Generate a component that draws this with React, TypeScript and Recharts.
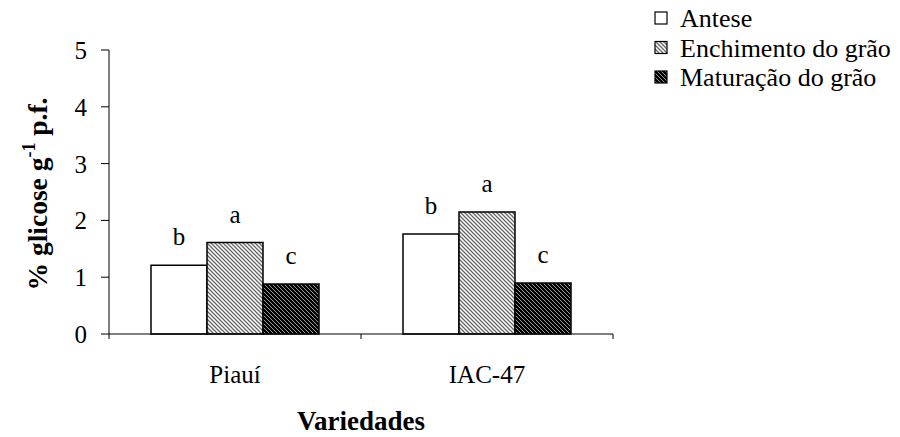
import React from 'react';
import { BarChart, Bar, XAxis, YAxis, LabelList, Legend } from 'recharts';

const categories = ['Piauí', 'IAC-47'];
const antese = [1.21, 1.76];
const enchimento = [1.61, 2.15];
const maturacao = [0.88, 0.9];
const letrasAntese = ['b', 'b'];
const letrasEnchimento = ['a', 'a'];
const letrasMaturacao = ['c', 'c'];
const yTicks = [0, 1, 2, 3, 4, 5];
const seriesNames = ['Antese', 'Enchimento do grão', 'Maturação do grão'];
const seriesFills = ['#ffffff', 'url(#hatchLight)', 'url(#hatchDark)'];

const data = categories.map((c, i) => ({
  name: c,
  antese: antese[i],
  enchimento: enchimento[i],
  maturacao: maturacao[i],
  la: letrasAntese[i],
  le: letrasEnchimento[i],
  lm: letrasMaturacao[i],
}));

const FONT = 'Liberation Serif';

const XTick = (props: any) => {
  const { x, y, payload, index } = props;
  const off = payload.offset || 0;
  const last = index === categories.length - 1;
  return (
    <g>
      <line x1={x - off} x2={x - off} y1={y} y2={y + 5} stroke="#000" strokeWidth={1} />
      {last && <line x1={x + off} x2={x + off} y1={y} y2={y + 5} stroke="#000" strokeWidth={1} />}
      <text
        x={x}
        y={y}
        dy={49}
        textAnchor="middle"
        fill="#000"
        fontFamily={FONT}
        fontSize={25}
        style={{ fontSize: 25, fontFamily: FONT, fontWeight: 'normal' }}
      >
        {payload.value}
      </text>
    </g>
  );
};

const YTick = (props: any) => {
  const { x, y, payload } = props;
  return (
    <text
      x={x}
      y={y}
      dy={9}
      textAnchor="end"
      fill="#000"
      fontFamily={FONT}
      fontSize={25}
      style={{ fontSize: 25, fontFamily: FONT, fontWeight: 'normal' }}
    >
      {payload.value}
    </text>
  );
};

const YLabel = (props: any) => {
  const vb = props.viewBox || { x: 0, y: 0, width: 0, height: 0 };
  const cx = vb.x + 47;
  const cy = vb.y + vb.height / 2 + 2;
  return (
    <text
      transform={`translate(${cx},${cy}) rotate(-90)`}
      textAnchor="middle"
      fill="#000"
      fontFamily={FONT}
      style={{ fontSize: 27.5, fontWeight: 'bold', fontFamily: FONT }}
    >
      % glicose g
      <tspan dy={-12} style={{ fontSize: 18 }}>-1</tspan>
      <tspan dy={12}> p.f.</tspan>
    </text>
  );
};

const LegendContent = () => (
  <svg width={250} height={100} style={{ overflow: 'visible', display: 'block' }}>
    {seriesNames.map((n, i) => {
      const base = 27 + i * 29.5;
      return (
        <g key={n}>
          <rect x={5} y={base - 15} width={12} height={12} fill={seriesFills[i]} stroke="#000" strokeWidth={1.2} />
          <text
            x={30}
            y={base}
            fill="#000"
            fontFamily={FONT}
            fontSize={26}
            style={{ fontSize: 26, fontFamily: FONT, fontWeight: 'normal' }}
          >
            {n}
          </text>
        </g>
      );
    })}
  </svg>
);

const labelStyle = { fill: '#000', fontSize: 25, fontFamily: FONT };

export default function App() {
  return (
    <div style={{ position: 'absolute', left: 0, top: 0, width: 900, height: 437, background: '#fff', fontFamily: FONT }}>
      <svg width={0} height={0} style={{ position: 'absolute' }}>
        <defs>
          <pattern id="hatchLight" patternUnits="userSpaceOnUse" width={4} height={4}>
            <rect width={4} height={4} fill="#fff" />
            <path d="M-1,3 L1,5 M0,0 L4,4 M3,-1 L5,1" stroke="#666" strokeWidth={1.3} />
          </pattern>
          <pattern id="hatchDark" patternUnits="userSpaceOnUse" width={4} height={4}>
            <rect width={4} height={4} fill="#000" />
            <path d="M-1,3 L1,5 M0,0 L4,4 M3,-1 L5,1" stroke="#aaa" strokeWidth={0.9} />
          </pattern>
        </defs>
      </svg>
      <BarChart
        width={900}
        height={437}
        data={data}
        margin={{ top: 50, right: 287, bottom: 0, left: 0 }}
        barGap={0}
      >
        <XAxis
          dataKey="name"
          height={103}
          tickLine={false}
          tickSize={0}
          tickMargin={0}
          axisLine={{ stroke: '#000', strokeWidth: 1 }}
          tick={<XTick />}
          interval={0}
          label={{
            value: 'Variedades',
            position: 'insideBottom',
            offset: 7,
            style: { fill: '#000', fontSize: 27, fontWeight: 'bold', fontFamily: FONT },
          }}
        />
        <YAxis
          width={109}
          domain={[0, 5]}
          ticks={yTicks}
          interval={0}
          tickSize={8}
          tickMargin={14}
          axisLine={{ stroke: '#000', strokeWidth: 1 }}
          tickLine={{ stroke: '#000', strokeWidth: 1 }}
          tick={<YTick />}
          label={<YLabel />}
        />
        <Legend
          layout="horizontal"
          verticalAlign="middle"
          align="right"
          wrapperStyle={{ position: 'absolute', left: 650, top: 0, width: 0, height: 0, overflow: 'visible' }}
          content={<LegendContent />}
        />
        <Bar dataKey="antese" name={seriesNames[0]} fill={seriesFills[0]} stroke="#000" strokeWidth={1.5} barSize={56} isAnimationActive={false}>
          <LabelList dataKey="la" position="top" offset={20} style={labelStyle} />
        </Bar>
        <Bar dataKey="enchimento" name={seriesNames[1]} fill={seriesFills[1]} stroke="#000" strokeWidth={1.5} barSize={56} isAnimationActive={false}>
          <LabelList dataKey="le" position="top" offset={20} style={labelStyle} />
        </Bar>
        <Bar dataKey="maturacao" name={seriesNames[2]} fill={seriesFills[2]} stroke="#000" strokeWidth={1.5} barSize={56} isAnimationActive={false}>
          <LabelList dataKey="lm" position="top" offset={20} style={labelStyle} />
        </Bar>
      </BarChart>
    </div>
  );
}
